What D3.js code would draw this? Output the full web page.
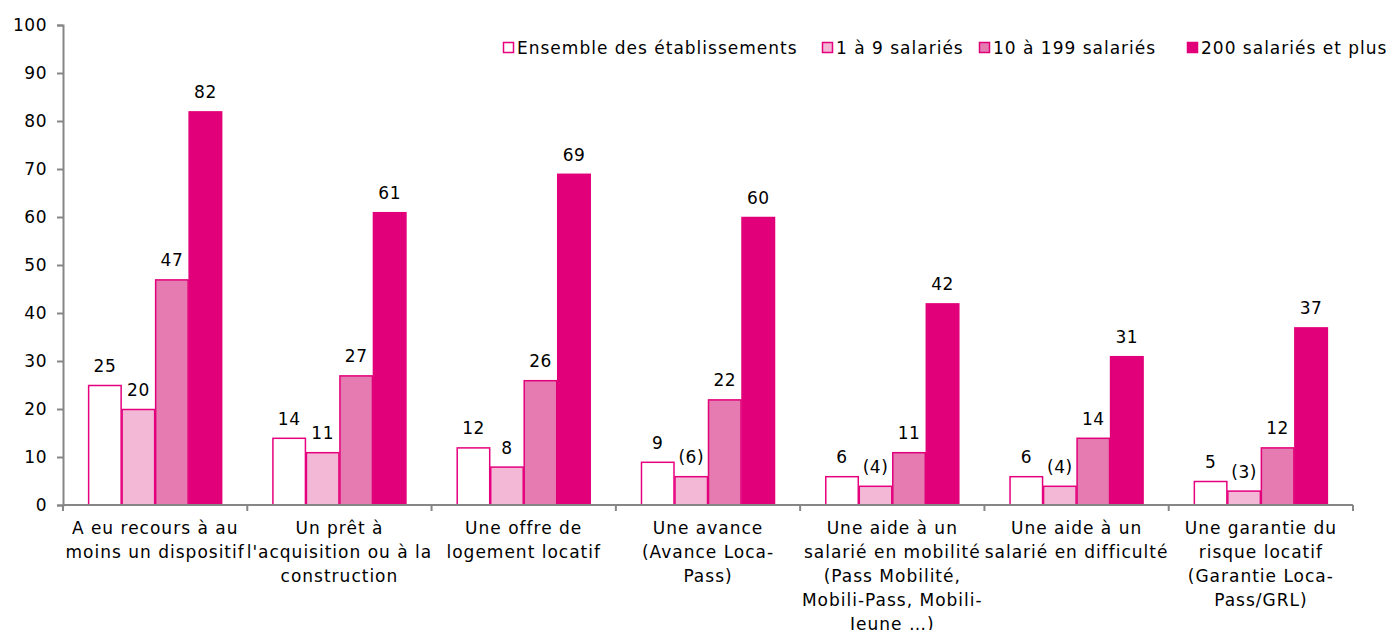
<!DOCTYPE html>
<html>
<head>
<meta charset="utf-8">
<script src="https://cdn.jsdelivr.net/npm/d3@7"></script>
<style>
  body { margin: 0; background: #fff; }
  svg text { font-family: Verdana, "DejaVu Sans", sans-serif; font-size: 17px; letter-spacing: 0.5px; fill: #000; }
  svg text.cat, svg text.leg { font-size: 17px; letter-spacing: 1px; }
</style>
</head>
<body>
<div id="chart"></div>
<script>
'use strict';

var categories = [
    ['A eu recours à au', 'moins un dispositif'],
    ['Un prêt à', "l'acquisition ou à la", 'construction'],
    ['Une offre de', 'logement locatif'],
    ['Une avance', '(Avance Loca-', 'Pass)'],
    ['Une aide à un', 'salarié en mobilité', '(Pass Mobilité,', 'Mobili-Pass, Mobili-', 'Jeune …)'],
    ['Une aide à un', 'salarié en difficulté'],
    ['Une garantie du', 'risque locatif', '(Garantie Loca-', 'Pass/GRL)']
];
var seriesNames = ['Ensemble des établissements', '1 à 9 salariés', '10 à 199 salariés', '200 salariés et plus'];
var ensemble = [25, 14, 12, 9, 6, 6, 5];
var petits = [20, 11, 8, 6, 4, 4, 3];
var moyens = [47, 27, 26, 22, 11, 14, 12];
var grands = [82, 61, 69, 60, 42, 31, 37];
// values shown in brackets (small sample)
var petitsFragile = [false, false, false, true, true, true, true];
var yTicks = [0, 10, 20, 30, 40, 50, 60, 70, 80, 90, 100];

var fills = ['#FFFFFF', '#F2B8D6', '#E57BB1', '#E2007A'];
var strokes = ['#E6007E', '#E6007E', '#E2007A', '#E2007A'];
var series = [ensemble, petits, moyens, grands];

var width = 1396, height = 630;
var margin = {left: 63, right: 43, top: 25, bottom: 125};

var svg = d3.select('#chart').append('svg')
    .attr('width', width)
    .attr('height', height);

var x = d3.scaleBand()
    .domain(d3.range(categories.length))
    .range([margin.left, width - margin.right]);

var inner = d3.scaleBand()
    .domain(d3.range(series.length))
    .range([0, x.bandwidth()])
    .paddingOuter(0.75);

var y = d3.scaleLinear()
    .domain([0, 100])
    .range([height - margin.bottom, margin.top]);

// bars
series.forEach(function(values, s) {
    var g = svg.append('g');
    g.selectAll('rect')
        .data(values)
        .enter().append('rect')
        .attr('x', function(d, i) { return x(i) + inner(s) + 0.5; })
        .attr('y', function(d) { return y(d) + 0.5; })
        .attr('width', inner.bandwidth() - 1)
        .attr('height', function(d) { return y(0) - y(d) - 0.5; })
        .attr('fill', fills[s])
        .attr('stroke', strokes[s])
        .attr('stroke-width', 1.5);

    g.selectAll('text')
        .data(values)
        .enter().append('text')
        .attr('x', function(d, i) { return x(i) + inner(s) + inner.bandwidth() / 2; })
        .attr('y', function(d) { return y(d) - 13; })
        .attr('text-anchor', 'middle')
        .text(function(d, i) {
            return (s === 1 && petitsFragile[i]) ? '(' + d + ')' : d;
        });
});

// y axis
var yAxis = svg.append('g')
    .attr('transform', 'translate(' + margin.left + ',0)')
    .call(d3.axisLeft(y).tickValues(yTicks).tickSize(6).tickPadding(10));
yAxis.select('.domain').attr('stroke', '#868686').attr('stroke-width', 2);
yAxis.selectAll('.tick line').attr('stroke', '#868686').attr('stroke-width', 2);

// x axis
var xAxis = svg.append('g')
    .attr('transform', 'translate(0,' + y(0) + ')');
xAxis.append('line')
    .attr('x1', margin.left).attr('x2', width - margin.right)
    .attr('stroke', '#868686').attr('stroke-width', 2);
xAxis.selectAll('line.sep')
    .data(d3.range(categories.length + 1))
    .enter().append('line')
    .attr('class', 'sep')
    .attr('x1', function(i) { return i < categories.length ? x(i) : x(i - 1) + x.step(); })
    .attr('x2', function(i) { return i < categories.length ? x(i) : x(i - 1) + x.step(); })
    .attr('y1', 0).attr('y2', 6)
    .attr('stroke', '#868686').attr('stroke-width', 2);

xAxis.selectAll('text.cat')
    .data(categories)
    .enter().append('text')
    .attr('class', 'cat')
    .attr('text-anchor', 'middle')
    .attr('transform', function(d, i) { return 'translate(' + (x(i) + x.bandwidth() / 2) + ',29)'; })
    .selectAll('tspan')
    .data(function(d) { return d; })
    .enter().append('tspan')
    .attr('x', 0)
    .attr('dy', function(d, j) { return j === 0 ? 0 : 24; })
    .text(function(d) { return d; });

// legend
var legendX = [503, 822, 979, 1187];
var legend = svg.append('g').attr('transform', 'translate(0,48)');
var items = legend.selectAll('g')
    .data(seriesNames)
    .enter().append('g')
    .attr('transform', function(d, i) { return 'translate(' + legendX[i] + ',0)'; });
items.append('rect')
    .attr('x', 0.5).attr('y', -5.5)
    .attr('width', 10).attr('height', 10)
    .attr('fill', function(d, i) { return fills[i]; })
    .attr('stroke', function(d, i) { return strokes[i]; })
    .attr('stroke-width', 1.5);
items.append('text')
    .attr('class', 'leg')
    .attr('x', 14)
    .attr('dy', '0.35em')
    .text(function(d) { return d; });
</script>
</body>
</html>
